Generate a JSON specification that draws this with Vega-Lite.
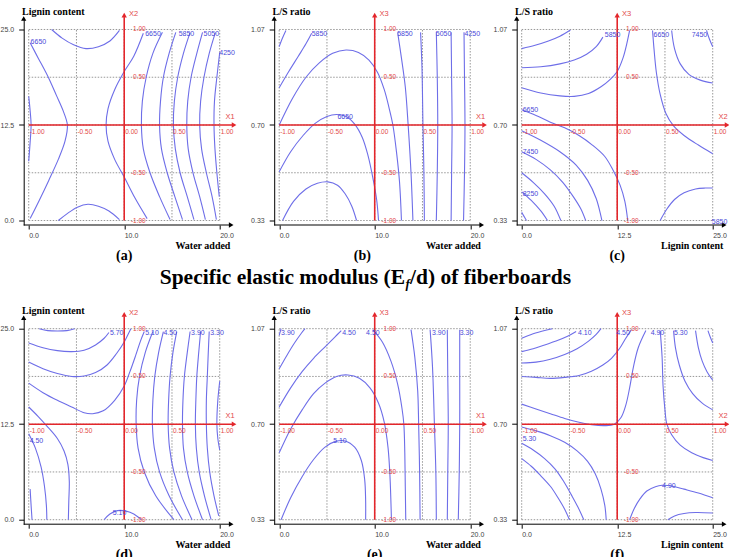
{
"$schema":"https://vega.github.io/schema/vega-lite/v6.json",
"background":"white",
"padding":{"left":-0.3,"top":6.5,"right":0,"bottom":0},
"bounds":"flush",
"columns":3,
"spacing":{"row":92.2,"column":35},
"datasets":{
"grid":[{"x":-1,"y":-1,"x2":-1,"y2":1},{"x":-0.5,"y":-1,"x2":-0.5,"y2":1},{"x":0,"y":-1,"x2":0,"y2":1},{"x":0.5,"y":-1,"x2":0.5,"y2":1},{"x":1,"y":-1,"x2":1,"y2":1},{"x":-1,"y":-1,"x2":1,"y2":-1},{"x":-1,"y":-0.5,"x2":1,"y2":-0.5},{"x":-1,"y":0,"x2":1,"y2":0},{"x":-1,"y":0.5,"x2":1,"y2":0.5},{"x":-1,"y":1,"x2":1,"y2":1}],
"redrule":[{"x":0,"y":-1,"x2":0,"y2":1.13},{"x":-1,"y":0,"x2":1.13,"y2":0}],
"rx":[{"x":-1,"t":"-1.00"},{"x":-0.5,"t":"-0.50"},{"x":0,"t":"0.00"},{"x":0.5,"t":"0.50"},{"x":1,"t":"1.00"}],
"ry":[{"y":1,"t":"1.00"},{"y":0.5,"t":"0.50"},{"y":-0.5,"t":"-0.50"},{"y":-1,"t":"-1.00"}],
"cl":[
{"p":"a","x":-0.98,"y":0.87,"t":"6650"},{"p":"a","x":0.22,"y":0.955,"t":"6650"},{"p":"a","x":0.57,"y":0.955,"t":"5850"},{"p":"a","x":0.83,"y":0.955,"t":"5050"},{"p":"a","x":0.995,"y":0.75,"t":"4250"},
{"p":"b","x":-0.66,"y":0.955,"t":"5850"},{"p":"b","x":-0.39,"y":0.085,"t":"6650"},{"p":"b","x":0.235,"y":0.955,"t":"5850"},{"p":"b","x":0.64,"y":0.955,"t":"5050"},{"p":"b","x":0.94,"y":0.955,"t":"4250"},
{"p":"c","x":-0.13,"y":0.945,"t":"5850"},{"p":"c","x":0.38,"y":0.945,"t":"6650"},{"p":"c","x":0.78,"y":0.945,"t":"7450"},{"p":"c","x":-0.99,"y":0.153,"t":"6650"},{"p":"c","x":-0.99,"y":-0.278,"t":"7450"},{"p":"c","x":-0.99,"y":-0.72,"t":"8250"},{"p":"c","x":0.99,"y":-1.02,"t":"5850"},
{"p":"d","x":-0.15,"y":0.95,"t":"5.70"},{"p":"d","x":0.22,"y":0.95,"t":"5.10"},{"p":"d","x":0.41,"y":0.95,"t":"4.50"},{"p":"d","x":0.7,"y":0.95,"t":"3.90"},{"p":"d","x":0.9,"y":0.95,"t":"3.30"},{"p":"d","x":-0.99,"y":-0.18,"t":"4.50"},{"p":"d","x":-0.12,"y":-0.93,"t":"5.10"},
{"p":"e","x":-0.98,"y":0.95,"t":"3.90"},{"p":"e","x":-0.34,"y":0.95,"t":"4.50"},{"p":"e","x":-0.09,"y":0.95,"t":"4.50"},{"p":"e","x":0.6,"y":0.95,"t":"3.90"},{"p":"e","x":0.89,"y":0.95,"t":"3.30"},{"p":"e","x":-0.435,"y":-0.18,"t":"5.10"},
{"p":"f","x":-0.41,"y":0.95,"t":"4.10"},{"p":"f","x":-0.01,"y":0.95,"t":"4.50"},{"p":"f","x":0.35,"y":0.95,"t":"4.90"},{"p":"f","x":0.595,"y":0.95,"t":"5.30"},{"p":"f","x":-0.99,"y":-0.15,"t":"5.30"},{"p":"f","x":0.47,"y":-0.645,"t":"4.90"}
],
"contours":[
{"p":"a","c":1,"x":-1,"y":0.3},{"p":"a","c":1,"x":-0.985,"y":0.15},{"p":"a","c":1,"x":-0.975,"y":0},{"p":"a","c":1,"x":-0.985,"y":-0.18},{"p":"a","c":1,"x":-1,"y":-0.38},
{"p":"a","c":2,"x":-0.985,"y":0.86},{"p":"a","c":2,"x":-0.9,"y":0.7},{"p":"a","c":2,"x":-0.8,"y":0.51},{"p":"a","c":2,"x":-0.71,"y":0.31},{"p":"a","c":2,"x":-0.64,"y":0.15},{"p":"a","c":2,"x":-0.595,"y":0},{"p":"a","c":2,"x":-0.62,"y":-0.17},{"p":"a","c":2,"x":-0.69,"y":-0.36},{"p":"a","c":2,"x":-0.79,"y":-0.58},{"p":"a","c":2,"x":-0.89,"y":-0.79},{"p":"a","c":2,"x":-0.985,"y":-0.98},
{"p":"a","c":3,"x":-0.76,"y":1},{"p":"a","c":3,"x":-0.65,"y":0.91},{"p":"a","c":3,"x":-0.53,"y":0.84},{"p":"a","c":3,"x":-0.4,"y":0.8},{"p":"a","c":3,"x":-0.27,"y":0.82},{"p":"a","c":3,"x":-0.15,"y":0.88},{"p":"a","c":3,"x":-0.05,"y":0.99},
{"p":"a","c":4,"x":-0.69,"y":-1},{"p":"a","c":4,"x":-0.6,"y":-0.93},{"p":"a","c":4,"x":-0.49,"y":-0.86},{"p":"a","c":4,"x":-0.38,"y":-0.83},{"p":"a","c":4,"x":-0.27,"y":-0.85},{"p":"a","c":4,"x":-0.16,"y":-0.9},{"p":"a","c":4,"x":-0.05,"y":-0.99},
{"p":"a","c":5,"x":0.2,"y":0.96},{"p":"a","c":5,"x":0.1,"y":0.72},{"p":"a","c":5,"x":0,"y":0.56},{"p":"a","c":5,"x":-0.1,"y":0.37},{"p":"a","c":5,"x":-0.17,"y":0.17},{"p":"a","c":5,"x":-0.19,"y":0},{"p":"a","c":5,"x":-0.17,"y":-0.17},{"p":"a","c":5,"x":-0.1,"y":-0.36},{"p":"a","c":5,"x":0,"y":-0.545},{"p":"a","c":5,"x":0.11,"y":-0.76},{"p":"a","c":5,"x":0.24,"y":-0.98},
{"p":"a","c":6,"x":0.4,"y":0.97},{"p":"a","c":6,"x":0.3,"y":0.75},{"p":"a","c":6,"x":0.23,"y":0.5},{"p":"a","c":6,"x":0.19,"y":0.25},{"p":"a","c":6,"x":0.18,"y":0},{"p":"a","c":6,"x":0.2,"y":-0.25},{"p":"a","c":6,"x":0.27,"y":-0.5},{"p":"a","c":6,"x":0.37,"y":-0.75},{"p":"a","c":6,"x":0.48,"y":-0.99},
{"p":"a","c":7,"x":0.54,"y":0.97},{"p":"a","c":7,"x":0.47,"y":0.75},{"p":"a","c":7,"x":0.41,"y":0.5},{"p":"a","c":7,"x":0.38,"y":0.25},{"p":"a","c":7,"x":0.37,"y":0},{"p":"a","c":7,"x":0.39,"y":-0.25},{"p":"a","c":7,"x":0.45,"y":-0.5},{"p":"a","c":7,"x":0.53,"y":-0.75},{"p":"a","c":7,"x":0.61,"y":-0.99},
{"p":"a","c":8,"x":0.69,"y":0.97},{"p":"a","c":8,"x":0.62,"y":0.75},{"p":"a","c":8,"x":0.56,"y":0.5},{"p":"a","c":8,"x":0.525,"y":0.25},{"p":"a","c":8,"x":0.515,"y":0},{"p":"a","c":8,"x":0.535,"y":-0.25},{"p":"a","c":8,"x":0.585,"y":-0.5},{"p":"a","c":8,"x":0.66,"y":-0.75},{"p":"a","c":8,"x":0.73,"y":-0.99},
{"p":"a","c":9,"x":0.82,"y":0.97},{"p":"a","c":9,"x":0.76,"y":0.75},{"p":"a","c":9,"x":0.7,"y":0.5},{"p":"a","c":9,"x":0.665,"y":0.25},{"p":"a","c":9,"x":0.655,"y":0},{"p":"a","c":9,"x":0.67,"y":-0.25},{"p":"a","c":9,"x":0.72,"y":-0.5},{"p":"a","c":9,"x":0.79,"y":-0.75},{"p":"a","c":9,"x":0.85,"y":-0.99},
{"p":"a","c":10,"x":0.955,"y":0.97},{"p":"a","c":10,"x":0.89,"y":0.75},{"p":"a","c":10,"x":0.835,"y":0.5},{"p":"a","c":10,"x":0.8,"y":0.25},{"p":"a","c":10,"x":0.79,"y":0},{"p":"a","c":10,"x":0.81,"y":-0.25},{"p":"a","c":10,"x":0.86,"y":-0.5},{"p":"a","c":10,"x":0.92,"y":-0.75},{"p":"a","c":10,"x":0.965,"y":-0.99},
{"p":"a","c":11,"x":1,"y":0.76},{"p":"a","c":11,"x":0.97,"y":0.5},{"p":"a","c":11,"x":0.945,"y":0.25},{"p":"a","c":11,"x":0.94,"y":0},{"p":"a","c":11,"x":0.95,"y":-0.25},{"p":"a","c":11,"x":0.97,"y":-0.5},{"p":"a","c":11,"x":0.995,"y":-0.75},
{"p":"b","c":1,"x":-1,"y":0.82},{"p":"b","c":1,"x":-0.97,"y":0.9},{"p":"b","c":1,"x":-0.93,"y":0.99},
{"p":"b","c":2,"x":-1,"y":0.39},{"p":"b","c":2,"x":-0.9,"y":0.56},{"p":"b","c":2,"x":-0.8,"y":0.72},{"p":"b","c":2,"x":-0.72,"y":0.85},{"p":"b","c":2,"x":-0.66,"y":0.96},
{"p":"b","c":3,"x":-1,"y":0},{"p":"b","c":3,"x":-0.86,"y":0.28},{"p":"b","c":3,"x":-0.72,"y":0.5},{"p":"b","c":3,"x":-0.58,"y":0.65},{"p":"b","c":3,"x":-0.44,"y":0.75},{"p":"b","c":3,"x":-0.3,"y":0.785},{"p":"b","c":3,"x":-0.17,"y":0.76},{"p":"b","c":3,"x":-0.06,"y":0.68},{"p":"b","c":3,"x":0.03,"y":0.55},{"p":"b","c":3,"x":0.1,"y":0.37},{"p":"b","c":3,"x":0.15,"y":0.18},{"p":"b","c":3,"x":0.19,"y":0},{"p":"b","c":3,"x":0.23,"y":-0.3},{"p":"b","c":3,"x":0.26,"y":-0.6},{"p":"b","c":3,"x":0.28,"y":-1},
{"p":"b","c":4,"x":-1,"y":-0.49},{"p":"b","c":4,"x":-0.88,"y":-0.28},{"p":"b","c":4,"x":-0.75,"y":-0.11},{"p":"b","c":4,"x":-0.62,"y":0.02},{"p":"b","c":4,"x":-0.5,"y":0.09},{"p":"b","c":4,"x":-0.4,"y":0.11},{"p":"b","c":4,"x":-0.3,"y":0.09},{"p":"b","c":4,"x":-0.21,"y":0.01},{"p":"b","c":4,"x":-0.13,"y":-0.13},{"p":"b","c":4,"x":-0.07,"y":-0.32},{"p":"b","c":4,"x":-0.02,"y":-0.55},{"p":"b","c":4,"x":0.02,"y":-0.78},{"p":"b","c":4,"x":0.04,"y":-1},
{"p":"b","c":5,"x":-0.965,"y":-1},{"p":"b","c":5,"x":-0.85,"y":-0.8},{"p":"b","c":5,"x":-0.72,"y":-0.67},{"p":"b","c":5,"x":-0.6,"y":-0.61},{"p":"b","c":5,"x":-0.49,"y":-0.595},{"p":"b","c":5,"x":-0.39,"y":-0.63},{"p":"b","c":5,"x":-0.31,"y":-0.72},{"p":"b","c":5,"x":-0.24,"y":-0.85},{"p":"b","c":5,"x":-0.19,"y":-1},
{"p":"b","c":6,"x":0.24,"y":0.97},{"p":"b","c":6,"x":0.28,"y":0.7},{"p":"b","c":6,"x":0.32,"y":0.4},{"p":"b","c":6,"x":0.35,"y":0},{"p":"b","c":6,"x":0.38,"y":-0.5},{"p":"b","c":6,"x":0.4,"y":-1},
{"p":"b","c":7,"x":0.48,"y":0.97},{"p":"b","c":7,"x":0.495,"y":0.6},{"p":"b","c":7,"x":0.505,"y":0},{"p":"b","c":7,"x":0.515,"y":-0.5},{"p":"b","c":7,"x":0.52,"y":-1},
{"p":"b","c":8,"x":0.645,"y":0.97},{"p":"b","c":8,"x":0.655,"y":0.5},{"p":"b","c":8,"x":0.66,"y":0},{"p":"b","c":8,"x":0.655,"y":-0.5},{"p":"b","c":8,"x":0.645,"y":-1},
{"p":"b","c":9,"x":0.8,"y":0.97},{"p":"b","c":9,"x":0.805,"y":0.5},{"p":"b","c":9,"x":0.81,"y":0},{"p":"b","c":9,"x":0.805,"y":-0.5},{"p":"b","c":9,"x":0.8,"y":-1},
{"p":"b","c":10,"x":0.935,"y":0.97},{"p":"b","c":10,"x":0.94,"y":0.5},{"p":"b","c":10,"x":0.945,"y":0},{"p":"b","c":10,"x":0.94,"y":-0.5},{"p":"b","c":10,"x":0.93,"y":-1},
{"p":"c","c":1,"x":-1,"y":0.8},{"p":"c","c":1,"x":-0.86,"y":0.835},{"p":"c","c":1,"x":-0.72,"y":0.88},{"p":"c","c":1,"x":-0.6,"y":0.93},{"p":"c","c":1,"x":-0.49,"y":0.995},
{"p":"c","c":2,"x":-1,"y":0.6},{"p":"c","c":2,"x":-0.8,"y":0.61},{"p":"c","c":2,"x":-0.6,"y":0.64},{"p":"c","c":2,"x":-0.45,"y":0.68},{"p":"c","c":2,"x":-0.32,"y":0.74},{"p":"c","c":2,"x":-0.22,"y":0.82},{"p":"c","c":2,"x":-0.15,"y":0.92},
{"p":"c","c":3,"x":-1,"y":0.39},{"p":"c","c":3,"x":-0.8,"y":0.335},{"p":"c","c":3,"x":-0.6,"y":0.305},{"p":"c","c":3,"x":-0.45,"y":0.3},{"p":"c","c":3,"x":-0.3,"y":0.33},{"p":"c","c":3,"x":-0.17,"y":0.4},{"p":"c","c":3,"x":-0.07,"y":0.48},{"p":"c","c":3,"x":0,"y":0.56},{"p":"c","c":3,"x":0.06,"y":0.7},{"p":"c","c":3,"x":0.1,"y":0.85},{"p":"c","c":3,"x":0.13,"y":0.99},
{"p":"c","c":4,"x":-1,"y":0.16},{"p":"c","c":4,"x":-0.85,"y":0.1},{"p":"c","c":4,"x":-0.7,"y":0.03},{"p":"c","c":4,"x":-0.55,"y":-0.03},{"p":"c","c":4,"x":-0.4,"y":-0.11},{"p":"c","c":4,"x":-0.26,"y":-0.21},{"p":"c","c":4,"x":-0.13,"y":-0.33},{"p":"c","c":4,"x":-0.04,"y":-0.48},{"p":"c","c":4,"x":0.03,"y":-0.63},{"p":"c","c":4,"x":0.08,"y":-0.8},{"p":"c","c":4,"x":0.11,"y":-1},
{"p":"c","c":5,"x":-1,"y":-0.06},{"p":"c","c":5,"x":-0.8,"y":-0.16},{"p":"c","c":5,"x":-0.6,"y":-0.28},{"p":"c","c":5,"x":-0.43,"y":-0.42},{"p":"c","c":5,"x":-0.31,"y":-0.58},{"p":"c","c":5,"x":-0.22,"y":-0.77},{"p":"c","c":5,"x":-0.16,"y":-1},
{"p":"c","c":6,"x":-1,"y":-0.28},{"p":"c","c":6,"x":-0.85,"y":-0.36},{"p":"c","c":6,"x":-0.7,"y":-0.47},{"p":"c","c":6,"x":-0.57,"y":-0.6},{"p":"c","c":6,"x":-0.46,"y":-0.75},{"p":"c","c":6,"x":-0.38,"y":-0.88},{"p":"c","c":6,"x":-0.33,"y":-1},
{"p":"c","c":7,"x":-1,"y":-0.5},{"p":"c","c":7,"x":-0.88,"y":-0.6},{"p":"c","c":7,"x":-0.76,"y":-0.72},{"p":"c","c":7,"x":-0.66,"y":-0.85},{"p":"c","c":7,"x":-0.59,"y":-1},
{"p":"c","c":8,"x":-1,"y":-0.7},{"p":"c","c":8,"x":-0.9,"y":-0.79},{"p":"c","c":8,"x":-0.8,"y":-0.9},{"p":"c","c":8,"x":-0.73,"y":-1},
{"p":"c","c":9,"x":-1,"y":-0.915},{"p":"c","c":9,"x":-0.95,"y":-1},
{"p":"c","c":10,"x":0.37,"y":0.99},{"p":"c","c":10,"x":0.385,"y":0.8},{"p":"c","c":10,"x":0.41,"y":0.55},{"p":"c","c":10,"x":0.45,"y":0.32},{"p":"c","c":10,"x":0.51,"y":0.12},{"p":"c","c":10,"x":0.59,"y":-0.01},{"p":"c","c":10,"x":0.7,"y":-0.11},{"p":"c","c":10,"x":0.85,"y":-0.21},{"p":"c","c":10,"x":1,"y":-0.3},
{"p":"c","c":11,"x":0.57,"y":0.99},{"p":"c","c":11,"x":0.6,"y":0.8},{"p":"c","c":11,"x":0.66,"y":0.64},{"p":"c","c":11,"x":0.75,"y":0.53},{"p":"c","c":11,"x":0.87,"y":0.47},{"p":"c","c":11,"x":1,"y":0.44},
{"p":"c","c":12,"x":0.935,"y":0.99},{"p":"c","c":12,"x":0.965,"y":0.9},{"p":"c","c":12,"x":1,"y":0.82},
{"p":"c","c":13,"x":0.45,"y":-1},{"p":"c","c":13,"x":0.52,"y":-0.88},{"p":"c","c":13,"x":0.6,"y":-0.78},{"p":"c","c":13,"x":0.7,"y":-0.71},{"p":"c","c":13,"x":0.82,"y":-0.67},{"p":"c","c":13,"x":0.92,"y":-0.66},{"p":"c","c":13,"x":1,"y":-0.66},
{"p":"d","c":1,"x":-0.89,"y":1},{"p":"d","c":1,"x":-0.8,"y":0.98},{"p":"d","c":1,"x":-0.7,"y":0.975},{"p":"d","c":1,"x":-0.6,"y":0.98},{"p":"d","c":1,"x":-0.52,"y":1},
{"p":"d","c":2,"x":-1,"y":0.85},{"p":"d","c":2,"x":-0.85,"y":0.8},{"p":"d","c":2,"x":-0.7,"y":0.77},{"p":"d","c":2,"x":-0.55,"y":0.76},{"p":"d","c":2,"x":-0.42,"y":0.775},{"p":"d","c":2,"x":-0.3,"y":0.83},{"p":"d","c":2,"x":-0.21,"y":0.9},{"p":"d","c":2,"x":-0.16,"y":0.96},
{"p":"d","c":3,"x":-1,"y":0.65},{"p":"d","c":3,"x":-0.85,"y":0.58},{"p":"d","c":3,"x":-0.7,"y":0.53},{"p":"d","c":3,"x":-0.55,"y":0.5},{"p":"d","c":3,"x":-0.42,"y":0.505},{"p":"d","c":3,"x":-0.3,"y":0.54},{"p":"d","c":3,"x":-0.18,"y":0.62},{"p":"d","c":3,"x":-0.08,"y":0.74},{"p":"d","c":3,"x":0,"y":0.86},{"p":"d","c":3,"x":0.05,"y":0.96},{"p":"d","c":3,"x":0.07,"y":1},
{"p":"d","c":4,"x":-1,"y":0.43},{"p":"d","c":4,"x":-0.85,"y":0.33},{"p":"d","c":4,"x":-0.7,"y":0.25},{"p":"d","c":4,"x":-0.55,"y":0.18},{"p":"d","c":4,"x":-0.42,"y":0.12},{"p":"d","c":4,"x":-0.33,"y":0.11},{"p":"d","c":4,"x":-0.22,"y":0.14},{"p":"d","c":4,"x":-0.1,"y":0.25},{"p":"d","c":4,"x":0,"y":0.4},{"p":"d","c":4,"x":0.06,"y":0.55},{"p":"d","c":4,"x":0.12,"y":0.72},{"p":"d","c":4,"x":0.17,"y":0.87},{"p":"d","c":4,"x":0.21,"y":0.97},
{"p":"d","c":5,"x":0.3,"y":0.97},{"p":"d","c":5,"x":0.22,"y":0.75},{"p":"d","c":5,"x":0.16,"y":0.5},{"p":"d","c":5,"x":0.13,"y":0.25},{"p":"d","c":5,"x":0.125,"y":0},{"p":"d","c":5,"x":0.145,"y":-0.25},{"p":"d","c":5,"x":0.21,"y":-0.5},{"p":"d","c":5,"x":0.33,"y":-0.75},{"p":"d","c":5,"x":0.52,"y":-1},
{"p":"d","c":6,"x":0.41,"y":0.97},{"p":"d","c":6,"x":0.36,"y":0.75},{"p":"d","c":6,"x":0.32,"y":0.5},{"p":"d","c":6,"x":0.3,"y":0.25},{"p":"d","c":6,"x":0.295,"y":0},{"p":"d","c":6,"x":0.315,"y":-0.25},{"p":"d","c":6,"x":0.37,"y":-0.5},{"p":"d","c":6,"x":0.47,"y":-0.75},{"p":"d","c":6,"x":0.61,"y":-1},
{"p":"d","c":7,"x":0.55,"y":0.97},{"p":"d","c":7,"x":0.51,"y":0.75},{"p":"d","c":7,"x":0.48,"y":0.5},{"p":"d","c":7,"x":0.465,"y":0.25},{"p":"d","c":7,"x":0.46,"y":0},{"p":"d","c":7,"x":0.475,"y":-0.25},{"p":"d","c":7,"x":0.52,"y":-0.5},{"p":"d","c":7,"x":0.6,"y":-0.75},{"p":"d","c":7,"x":0.71,"y":-1},
{"p":"d","c":8,"x":0.69,"y":0.97},{"p":"d","c":8,"x":0.66,"y":0.75},{"p":"d","c":8,"x":0.63,"y":0.5},{"p":"d","c":8,"x":0.615,"y":0.25},{"p":"d","c":8,"x":0.61,"y":0},{"p":"d","c":8,"x":0.62,"y":-0.25},{"p":"d","c":8,"x":0.66,"y":-0.5},{"p":"d","c":8,"x":0.73,"y":-0.75},{"p":"d","c":8,"x":0.82,"y":-1},
{"p":"d","c":9,"x":0.8,"y":0.97},{"p":"d","c":9,"x":0.78,"y":0.75},{"p":"d","c":9,"x":0.76,"y":0.5},{"p":"d","c":9,"x":0.75,"y":0.25},{"p":"d","c":9,"x":0.745,"y":0},{"p":"d","c":9,"x":0.755,"y":-0.25},{"p":"d","c":9,"x":0.785,"y":-0.5},{"p":"d","c":9,"x":0.84,"y":-0.75},{"p":"d","c":9,"x":0.91,"y":-1},
{"p":"d","c":10,"x":0.89,"y":0.97},{"p":"d","c":10,"x":0.88,"y":0.75},{"p":"d","c":10,"x":0.87,"y":0.5},{"p":"d","c":10,"x":0.86,"y":0.25},{"p":"d","c":10,"x":0.86,"y":0},{"p":"d","c":10,"x":0.87,"y":-0.25},{"p":"d","c":10,"x":0.895,"y":-0.5},{"p":"d","c":10,"x":0.94,"y":-0.75},{"p":"d","c":10,"x":0.99,"y":-0.96},
{"p":"d","c":11,"x":1,"y":0.45},{"p":"d","c":11,"x":0.98,"y":0.25},{"p":"d","c":11,"x":0.97,"y":0},{"p":"d","c":11,"x":0.98,"y":-0.15},{"p":"d","c":11,"x":1,"y":-0.27},
{"p":"d","c":12,"x":-1,"y":0.18},{"p":"d","c":12,"x":-0.9,"y":0.08},{"p":"d","c":12,"x":-0.8,"y":-0.03},{"p":"d","c":12,"x":-0.7,"y":-0.15},{"p":"d","c":12,"x":-0.63,"y":-0.28},{"p":"d","c":12,"x":-0.59,"y":-0.42},{"p":"d","c":12,"x":-0.575,"y":-0.6},{"p":"d","c":12,"x":-0.58,"y":-0.8},{"p":"d","c":12,"x":-0.585,"y":-1},
{"p":"d","c":13,"x":-1,"y":-0.1},{"p":"d","c":13,"x":-0.93,"y":-0.25},{"p":"d","c":13,"x":-0.87,"y":-0.45},{"p":"d","c":13,"x":-0.835,"y":-0.65},{"p":"d","c":13,"x":-0.815,"y":-0.85},{"p":"d","c":13,"x":-0.81,"y":-1},
{"p":"d","c":14,"x":-0.985,"y":-0.68},{"p":"d","c":14,"x":-0.975,"y":-0.85},{"p":"d","c":14,"x":-0.965,"y":-1},
{"p":"d","c":15,"x":-0.21,"y":-1},{"p":"d","c":15,"x":-0.15,"y":-0.94},{"p":"d","c":15,"x":-0.07,"y":-0.905},{"p":"d","c":15,"x":0.02,"y":-0.91},{"p":"d","c":15,"x":0.1,"y":-0.94},{"p":"d","c":15,"x":0.18,"y":-1},
{"p":"e","c":1,"x":-1,"y":0.93},{"p":"e","c":1,"x":-0.98,"y":1},
{"p":"e","c":2,"x":-1,"y":0.58},{"p":"e","c":2,"x":-0.92,"y":0.72},{"p":"e","c":2,"x":-0.84,"y":0.85},{"p":"e","c":2,"x":-0.77,"y":0.95},{"p":"e","c":2,"x":-0.73,"y":1},
{"p":"e","c":3,"x":-1,"y":0.18},{"p":"e","c":3,"x":-0.88,"y":0.38},{"p":"e","c":3,"x":-0.76,"y":0.55},{"p":"e","c":3,"x":-0.64,"y":0.69},{"p":"e","c":3,"x":-0.52,"y":0.81},{"p":"e","c":3,"x":-0.42,"y":0.91},{"p":"e","c":3,"x":-0.35,"y":0.98},
{"p":"e","c":4,"x":-1,"y":-0.3},{"p":"e","c":4,"x":-0.88,"y":-0.05},{"p":"e","c":4,"x":-0.76,"y":0.15},{"p":"e","c":4,"x":-0.64,"y":0.32},{"p":"e","c":4,"x":-0.52,"y":0.43},{"p":"e","c":4,"x":-0.4,"y":0.5},{"p":"e","c":4,"x":-0.28,"y":0.515},{"p":"e","c":4,"x":-0.16,"y":0.48},{"p":"e","c":4,"x":-0.05,"y":0.38},{"p":"e","c":4,"x":0.04,"y":0.22},{"p":"e","c":4,"x":0.1,"y":0.02},{"p":"e","c":4,"x":0.14,"y":-0.25},{"p":"e","c":4,"x":0.16,"y":-0.55},{"p":"e","c":4,"x":0.175,"y":-1},
{"p":"e","c":5,"x":-0.98,"y":-1},{"p":"e","c":5,"x":-0.88,"y":-0.77},{"p":"e","c":5,"x":-0.76,"y":-0.55},{"p":"e","c":5,"x":-0.64,"y":-0.37},{"p":"e","c":5,"x":-0.52,"y":-0.24},{"p":"e","c":5,"x":-0.41,"y":-0.18},{"p":"e","c":5,"x":-0.31,"y":-0.175},{"p":"e","c":5,"x":-0.21,"y":-0.24},{"p":"e","c":5,"x":-0.14,"y":-0.38},{"p":"e","c":5,"x":-0.105,"y":-0.58},{"p":"e","c":5,"x":-0.095,"y":-0.8},{"p":"e","c":5,"x":-0.095,"y":-1},
{"p":"e","c":6,"x":-0.02,"y":0.99},{"p":"e","c":6,"x":0.08,"y":0.86},{"p":"e","c":6,"x":0.17,"y":0.66},{"p":"e","c":6,"x":0.24,"y":0.42},{"p":"e","c":6,"x":0.285,"y":0.17},{"p":"e","c":6,"x":0.305,"y":0},{"p":"e","c":6,"x":0.315,"y":-0.3},{"p":"e","c":6,"x":0.32,"y":-0.65},{"p":"e","c":6,"x":0.325,"y":-1},
{"p":"e","c":7,"x":0.38,"y":0.99},{"p":"e","c":7,"x":0.42,"y":0.7},{"p":"e","c":7,"x":0.45,"y":0.35},{"p":"e","c":7,"x":0.46,"y":0},{"p":"e","c":7,"x":0.47,"y":-0.5},{"p":"e","c":7,"x":0.475,"y":-1},
{"p":"e","c":8,"x":0.58,"y":0.99},{"p":"e","c":8,"x":0.605,"y":0.6},{"p":"e","c":8,"x":0.625,"y":0},{"p":"e","c":8,"x":0.64,"y":-0.5},{"p":"e","c":8,"x":0.645,"y":-1},
{"p":"e","c":9,"x":0.76,"y":0.99},{"p":"e","c":9,"x":0.765,"y":0.5},{"p":"e","c":9,"x":0.77,"y":0},{"p":"e","c":9,"x":0.765,"y":-0.5},{"p":"e","c":9,"x":0.76,"y":-1},
{"p":"e","c":10,"x":0.89,"y":0.99},{"p":"e","c":10,"x":0.89,"y":0.5},{"p":"e","c":10,"x":0.89,"y":0},{"p":"e","c":10,"x":0.885,"y":-0.5},{"p":"e","c":10,"x":0.875,"y":-1},
{"p":"f","c":1,"x":-1,"y":0.9},{"p":"f","c":1,"x":-0.9,"y":0.94},{"p":"f","c":1,"x":-0.78,"y":0.975},{"p":"f","c":1,"x":-0.68,"y":1},
{"p":"f","c":2,"x":-1,"y":0.76},{"p":"f","c":2,"x":-0.88,"y":0.79},{"p":"f","c":2,"x":-0.76,"y":0.83},{"p":"f","c":2,"x":-0.64,"y":0.87},{"p":"f","c":2,"x":-0.52,"y":0.92},{"p":"f","c":2,"x":-0.43,"y":0.97},
{"p":"f","c":3,"x":-1,"y":0.64},{"p":"f","c":3,"x":-0.85,"y":0.65},{"p":"f","c":3,"x":-0.7,"y":0.68},{"p":"f","c":3,"x":-0.55,"y":0.73},{"p":"f","c":3,"x":-0.42,"y":0.79},{"p":"f","c":3,"x":-0.3,"y":0.87},{"p":"f","c":3,"x":-0.22,"y":0.94},{"p":"f","c":3,"x":-0.17,"y":1},
{"p":"f","c":4,"x":-1,"y":0.5},{"p":"f","c":4,"x":-0.85,"y":0.49},{"p":"f","c":4,"x":-0.7,"y":0.48},{"p":"f","c":4,"x":-0.55,"y":0.49},{"p":"f","c":4,"x":-0.4,"y":0.51},{"p":"f","c":4,"x":-0.27,"y":0.555},{"p":"f","c":4,"x":-0.15,"y":0.62},{"p":"f","c":4,"x":-0.06,"y":0.69},{"p":"f","c":4,"x":0.03,"y":0.8},{"p":"f","c":4,"x":0.09,"y":0.9},{"p":"f","c":4,"x":0.15,"y":0.99},
{"p":"f","c":5,"x":-1,"y":0.21},{"p":"f","c":5,"x":-0.85,"y":0.16},{"p":"f","c":5,"x":-0.7,"y":0.11},{"p":"f","c":5,"x":-0.55,"y":0.06},{"p":"f","c":5,"x":-0.4,"y":0.02},{"p":"f","c":5,"x":-0.27,"y":-0.005},{"p":"f","c":5,"x":-0.13,"y":-0.015},{"p":"f","c":5,"x":-0.03,"y":0},{"p":"f","c":5,"x":0.04,"y":0.07},{"p":"f","c":5,"x":0.09,"y":0.2},{"p":"f","c":5,"x":0.13,"y":0.38},{"p":"f","c":5,"x":0.17,"y":0.6},{"p":"f","c":5,"x":0.22,"y":0.8},{"p":"f","c":5,"x":0.3,"y":0.98},
{"p":"f","c":6,"x":0.45,"y":0.98},{"p":"f","c":6,"x":0.47,"y":0.7},{"p":"f","c":6,"x":0.48,"y":0.4},{"p":"f","c":6,"x":0.5,"y":0.15},{"p":"f","c":6,"x":0.52,"y":0},{"p":"f","c":6,"x":0.57,"y":-0.11},{"p":"f","c":6,"x":0.66,"y":-0.22},{"p":"f","c":6,"x":0.78,"y":-0.3},{"p":"f","c":6,"x":0.9,"y":-0.35},{"p":"f","c":6,"x":1,"y":-0.38},
{"p":"f","c":7,"x":0.59,"y":0.98},{"p":"f","c":7,"x":0.61,"y":0.8},{"p":"f","c":7,"x":0.65,"y":0.62},{"p":"f","c":7,"x":0.71,"y":0.45},{"p":"f","c":7,"x":0.79,"y":0.32},{"p":"f","c":7,"x":0.89,"y":0.22},{"p":"f","c":7,"x":1,"y":0.15},
{"p":"f","c":8,"x":0.82,"y":0.98},{"p":"f","c":8,"x":0.85,"y":0.8},{"p":"f","c":8,"x":0.89,"y":0.66},{"p":"f","c":8,"x":0.94,"y":0.55},{"p":"f","c":8,"x":1,"y":0.46},
{"p":"f","c":9,"x":0.95,"y":0.98},{"p":"f","c":9,"x":0.975,"y":0.91},{"p":"f","c":9,"x":1,"y":0.85},
{"p":"f","c":10,"x":-1,"y":-0.03},{"p":"f","c":10,"x":-0.85,"y":-0.07},{"p":"f","c":10,"x":-0.7,"y":-0.12},{"p":"f","c":10,"x":-0.55,"y":-0.19},{"p":"f","c":10,"x":-0.42,"y":-0.28},{"p":"f","c":10,"x":-0.31,"y":-0.39},{"p":"f","c":10,"x":-0.23,"y":-0.52},{"p":"f","c":10,"x":-0.17,"y":-0.68},{"p":"f","c":10,"x":-0.13,"y":-0.85},{"p":"f","c":10,"x":-0.115,"y":-1},
{"p":"f","c":11,"x":-1,"y":-0.2},{"p":"f","c":11,"x":-0.88,"y":-0.27},{"p":"f","c":11,"x":-0.76,"y":-0.36},{"p":"f","c":11,"x":-0.65,"y":-0.47},{"p":"f","c":11,"x":-0.56,"y":-0.6},{"p":"f","c":11,"x":-0.48,"y":-0.74},{"p":"f","c":11,"x":-0.41,"y":-0.87},{"p":"f","c":11,"x":-0.35,"y":-1},
{"p":"f","c":12,"x":-1,"y":-0.36},{"p":"f","c":12,"x":-0.9,"y":-0.44},{"p":"f","c":12,"x":-0.8,"y":-0.54},{"p":"f","c":12,"x":-0.7,"y":-0.65},{"p":"f","c":12,"x":-0.62,"y":-0.77},{"p":"f","c":12,"x":-0.55,"y":-0.89},{"p":"f","c":12,"x":-0.5,"y":-1},
{"p":"f","c":13,"x":0.13,"y":-1},{"p":"f","c":13,"x":0.18,"y":-0.88},{"p":"f","c":13,"x":0.24,"y":-0.78},{"p":"f","c":13,"x":0.31,"y":-0.7},{"p":"f","c":13,"x":0.4,"y":-0.655},{"p":"f","c":13,"x":0.47,"y":-0.64},{"p":"f","c":13,"x":0.58,"y":-0.65},{"p":"f","c":13,"x":0.7,"y":-0.68},{"p":"f","c":13,"x":0.85,"y":-0.72},{"p":"f","c":13,"x":1,"y":-0.77},
{"p":"f","c":14,"x":0.53,"y":-1},{"p":"f","c":14,"x":0.6,"y":-0.96},{"p":"f","c":14,"x":0.7,"y":-0.935},{"p":"f","c":14,"x":0.82,"y":-0.925},{"p":"f","c":14,"x":1,"y":-0.93}
]
},
"concat":[
{"width":207.5,"height":206.5,"layer":[
{"data":{"name":"grid"},"mark":{"type":"rule","color":"#8c8c8c","strokeWidth":0.9,"strokeDash":[1.5,1.5]},"encoding":{"x":{"field":"x","type":"quantitative","title":null,"scale":{"domain":[-1.0524,1.12],"nice":false,"zero":false},"axis":{"values":[-1,0,1],"domain":false,"labelExpr":"datum.value == -1 ? '0.0' : datum.value == 0 ? '10.0' : '20.0'"}},"y":{"field":"y","type":"quantitative","title":null,"scale":{"domain":[-1.047,1.115],"nice":false,"zero":false},"axis":{"values":[-1,0,1],"labelExpr":"datum.value == -1 ? '0.0' : datum.value == 0 ? '12.5' : '25.0'"}},"x2":{"field":"x2"},"y2":{"field":"y2"}}},
{"data":{"name":"contours"},"transform":[{"filter":"datum.p=='a'"}],"mark":"line","encoding":{"x":{"field":"x","type":"quantitative","title":null},"y":{"field":"y","type":"quantitative","title":null},"detail":{"field":"c"},"order":{"value":null}}},
{"data":{"name":"redrule"},"mark":{"type":"rule","color":"#e3262b","strokeWidth":1.6},"encoding":{"x":{"field":"x","type":"quantitative","title":null},"y":{"field":"y","type":"quantitative","title":null},"x2":{"field":"x2"},"y2":{"field":"y2"}}},
{"data":{"values":[{}]},"mark":{"type":"rule","color":"#000","strokeWidth":1},"encoding":{"x":{"datum":-1.0524},"x2":{"datum":1.12},"y":{"datum":-1.047}}},
{"data":{"values":[{}]},"mark":{"type":"point","shape":"triangle-up","color":"#e3262b"},"encoding":{"x":{"datum":0},"y":{"datum":1.15}}},
{"data":{"values":[{}]},"mark":{"type":"point","shape":"triangle-right","color":"#e3262b"},"encoding":{"x":{"datum":1.15},"y":{"datum":0}}},
{"data":{"values":[{}]},"mark":{"type":"point","shape":"triangle-up","color":"#000"},"encoding":{"x":{"datum":-1.0524},"y":{"datum":1.115}}},
{"data":{"values":[{}]},"mark":{"type":"point","shape":"triangle-right","color":"#000"},"encoding":{"x":{"datum":1.12},"y":{"datum":-1.047}}},
{"data":{"name":"rx"},"mark":{"type":"text","dx":1,"fontSize":6.5,"color":"#e34a4a"},"encoding":{"x":{"field":"x","type":"quantitative","title":null},"y":{"datum":-0.072},"text":{"field":"t"}}},
{"data":{"name":"ry"},"mark":{"type":"text","align":"right","fontSize":6.5,"color":"#e34a4a"},"encoding":{"x":{"datum":0.225},"y":{"field":"y","type":"quantitative","title":null},"text":{"field":"t"}}},
{"data":{"values":[{}]},"mark":{"type":"text","fontSize":7.5,"color":"#e34a4a"},"encoding":{"x":{"datum":1.06},"y":{"datum":0.085},"text":{"value":"X1"}}},
{"data":{"values":[{}]},"mark":{"type":"text","fontSize":7.5,"color":"#e34a4a"},"encoding":{"x":{"datum":0.05},"y":{"datum":1.165},"text":{"value":"X2"}}},
{"data":{"name":"cl"},"transform":[{"filter":"datum.p=='a'"}],"mark":{"type":"text","fontSize":7,"color":"#4848d8"},"encoding":{"x":{"field":"x","type":"quantitative","title":null},"y":{"field":"y","type":"quantitative","title":null},"text":{"field":"t"}}},
{"data":{"values":[{}]},"mark":{"type":"text","font":"Liberation Serif","fontWeight":"bold","fontSize":10,"color":"#000"},"encoding":{"x":{"datum":-1.069},"y":{"datum":1.186},"text":{"value":"Lignin content"}}},
{"data":{"values":[{}]},"mark":{"type":"text","align":"right","font":"Liberation Serif","fontWeight":"bold","fontSize":10,"color":"#000"},"encoding":{"x":{"datum":1.112},"y":{"datum":-1.268},"text":{"value":"Water added"}}},
{"data":{"values":[{}]},"mark":{"type":"text","align":"center","font":"Liberation Serif","fontWeight":"bold","fontSize":14,"color":"#000"},"encoding":{"x":{"datum":0},"y":{"datum":-1.374},"text":{"value":"(a)"}}}
]},
{"width":215,"height":206.5,"layer":[
{"data":{"name":"grid"},"mark":{"type":"rule","color":"#8c8c8c","strokeWidth":0.9,"strokeDash":[1.5,1.5]},"encoding":{"x":{"field":"x","type":"quantitative","title":null,"scale":{"domain":[-1.1309,1.12],"nice":false,"zero":false},"axis":{"values":[-1,0,1],"domain":false,"labelExpr":"datum.value == -1 ? '0.0' : datum.value == 0 ? '10.0' : '20.0'"}},"y":{"field":"y","type":"quantitative","title":null,"scale":{"domain":[-1.047,1.115],"nice":false,"zero":false},"axis":{"values":[-1,0,1],"offset":-7.5,"labelExpr":"datum.value == -1 ? '0.33' : datum.value == 0 ? '0.70' : '1.07'"}},"x2":{"field":"x2"},"y2":{"field":"y2"}}},
{"data":{"name":"contours"},"transform":[{"filter":"datum.p=='b'"}],"mark":"line","encoding":{"x":{"field":"x","type":"quantitative","title":null},"y":{"field":"y","type":"quantitative","title":null},"detail":{"field":"c"},"order":{"value":null}}},
{"data":{"name":"redrule"},"mark":{"type":"rule","color":"#e3262b","strokeWidth":1.6},"encoding":{"x":{"field":"x","type":"quantitative","title":null},"y":{"field":"y","type":"quantitative","title":null},"x2":{"field":"x2"},"y2":{"field":"y2"}}},
{"data":{"values":[{}]},"mark":{"type":"rule","color":"#000","strokeWidth":1},"encoding":{"x":{"datum":-1.0524},"x2":{"datum":1.12},"y":{"datum":-1.047}}},
{"data":{"values":[{}]},"mark":{"type":"point","shape":"triangle-up","color":"#e3262b"},"encoding":{"x":{"datum":0},"y":{"datum":1.15}}},
{"data":{"values":[{}]},"mark":{"type":"point","shape":"triangle-right","color":"#e3262b"},"encoding":{"x":{"datum":1.15},"y":{"datum":0}}},
{"data":{"values":[{}]},"mark":{"type":"point","shape":"triangle-up","color":"#000"},"encoding":{"x":{"datum":-1.0524},"y":{"datum":1.115}}},
{"data":{"values":[{}]},"mark":{"type":"point","shape":"triangle-right","color":"#000"},"encoding":{"x":{"datum":1.12},"y":{"datum":-1.047}}},
{"data":{"name":"rx"},"mark":{"type":"text","dx":1,"fontSize":6.5,"color":"#e34a4a"},"encoding":{"x":{"field":"x","type":"quantitative","title":null},"y":{"datum":-0.072},"text":{"field":"t"}}},
{"data":{"name":"ry"},"mark":{"type":"text","align":"right","fontSize":6.5,"color":"#e34a4a"},"encoding":{"x":{"datum":0.225},"y":{"field":"y","type":"quantitative","title":null},"text":{"field":"t"}}},
{"data":{"values":[{}]},"mark":{"type":"text","fontSize":7.5,"color":"#e34a4a"},"encoding":{"x":{"datum":1.06},"y":{"datum":0.085},"text":{"value":"X1"}}},
{"data":{"values":[{}]},"mark":{"type":"text","fontSize":7.5,"color":"#e34a4a"},"encoding":{"x":{"datum":0.05},"y":{"datum":1.165},"text":{"value":"X3"}}},
{"data":{"name":"cl"},"transform":[{"filter":"datum.p=='b'"}],"mark":{"type":"text","fontSize":7,"color":"#4848d8"},"encoding":{"x":{"field":"x","type":"quantitative","title":null},"y":{"field":"y","type":"quantitative","title":null},"text":{"field":"t"}}},
{"data":{"values":[{}]},"mark":{"type":"text","font":"Liberation Serif","fontWeight":"bold","fontSize":10,"color":"#000"},"encoding":{"x":{"datum":-1.069},"y":{"datum":1.186},"text":{"value":"L/S ratio"}}},
{"data":{"values":[{}]},"mark":{"type":"text","align":"right","font":"Liberation Serif","fontWeight":"bold","fontSize":10,"color":"#000"},"encoding":{"x":{"datum":1.112},"y":{"datum":-1.268},"text":{"value":"Water added"}}},
{"data":{"values":[{}]},"mark":{"type":"text","align":"center","font":"Liberation Serif","fontWeight":"bold","fontSize":14,"color":"#000"},"encoding":{"x":{"datum":-0.13},"y":{"datum":-1.374},"text":{"value":"(b)"}}}
]},
{"width":207.5,"height":206.5,"layer":[
{"data":{"name":"grid"},"mark":{"type":"rule","color":"#8c8c8c","strokeWidth":0.9,"strokeDash":[1.5,1.5]},"encoding":{"x":{"field":"x","type":"quantitative","title":null,"scale":{"domain":[-1.0524,1.12],"nice":false,"zero":false},"axis":{"values":[-1,0,1],"domain":false,"labelExpr":"datum.value == -1 ? '0.0' : datum.value == 0 ? '12.5' : '25.0'"}},"y":{"field":"y","type":"quantitative","title":null,"scale":{"domain":[-1.047,1.115],"nice":false,"zero":false},"axis":{"values":[-1,0,1],"labelExpr":"datum.value == -1 ? '0.33' : datum.value == 0 ? '0.70' : '1.07'"}},"x2":{"field":"x2"},"y2":{"field":"y2"}}},
{"data":{"name":"contours"},"transform":[{"filter":"datum.p=='c'"}],"mark":"line","encoding":{"x":{"field":"x","type":"quantitative","title":null},"y":{"field":"y","type":"quantitative","title":null},"detail":{"field":"c"},"order":{"value":null}}},
{"data":{"name":"redrule"},"mark":{"type":"rule","color":"#e3262b","strokeWidth":1.6},"encoding":{"x":{"field":"x","type":"quantitative","title":null},"y":{"field":"y","type":"quantitative","title":null},"x2":{"field":"x2"},"y2":{"field":"y2"}}},
{"data":{"values":[{}]},"mark":{"type":"rule","color":"#000","strokeWidth":1},"encoding":{"x":{"datum":-1.0524},"x2":{"datum":1.12},"y":{"datum":-1.047}}},
{"data":{"values":[{}]},"mark":{"type":"point","shape":"triangle-up","color":"#e3262b"},"encoding":{"x":{"datum":0},"y":{"datum":1.15}}},
{"data":{"values":[{}]},"mark":{"type":"point","shape":"triangle-right","color":"#e3262b"},"encoding":{"x":{"datum":1.15},"y":{"datum":0}}},
{"data":{"values":[{}]},"mark":{"type":"point","shape":"triangle-up","color":"#000"},"encoding":{"x":{"datum":-1.0524},"y":{"datum":1.115}}},
{"data":{"values":[{}]},"mark":{"type":"point","shape":"triangle-right","color":"#000"},"encoding":{"x":{"datum":1.12},"y":{"datum":-1.047}}},
{"data":{"name":"rx"},"mark":{"type":"text","dx":1,"fontSize":6.5,"color":"#e34a4a"},"encoding":{"x":{"field":"x","type":"quantitative","title":null},"y":{"datum":-0.072},"text":{"field":"t"}}},
{"data":{"name":"ry"},"mark":{"type":"text","align":"right","fontSize":6.5,"color":"#e34a4a"},"encoding":{"x":{"datum":0.225},"y":{"field":"y","type":"quantitative","title":null},"text":{"field":"t"}}},
{"data":{"values":[{}]},"mark":{"type":"text","fontSize":7.5,"color":"#e34a4a"},"encoding":{"x":{"datum":1.06},"y":{"datum":0.085},"text":{"value":"X2"}}},
{"data":{"values":[{}]},"mark":{"type":"text","fontSize":7.5,"color":"#e34a4a"},"encoding":{"x":{"datum":0.05},"y":{"datum":1.165},"text":{"value":"X3"}}},
{"data":{"name":"cl"},"transform":[{"filter":"datum.p=='c'"}],"mark":{"type":"text","fontSize":7,"color":"#4848d8"},"encoding":{"x":{"field":"x","type":"quantitative","title":null},"y":{"field":"y","type":"quantitative","title":null},"text":{"field":"t"}}},
{"data":{"values":[{}]},"mark":{"type":"text","font":"Liberation Serif","fontWeight":"bold","fontSize":10,"color":"#000"},"encoding":{"x":{"datum":-1.069},"y":{"datum":1.186},"text":{"value":"L/S ratio"}}},
{"data":{"values":[{}]},"mark":{"type":"text","align":"right","font":"Liberation Serif","fontWeight":"bold","fontSize":10,"color":"#000"},"encoding":{"x":{"datum":1.112},"y":{"datum":-1.268},"text":{"value":"Lignin content"}}},
{"data":{"values":[{}]},"mark":{"type":"text","align":"center","font":"Liberation Serif","fontWeight":"bold","fontSize":14,"color":"#000"},"encoding":{"x":{"datum":0},"y":{"datum":-1.374},"text":{"value":"(c)"}}}
]},
{"width":207.5,"height":206.5,"layer":[
{"data":{"name":"grid"},"mark":{"type":"rule","color":"#8c8c8c","strokeWidth":0.9,"strokeDash":[1.5,1.5]},"encoding":{"x":{"field":"x","type":"quantitative","title":null,"scale":{"domain":[-1.0524,1.12],"nice":false,"zero":false},"axis":{"values":[-1,0,1],"domain":false,"labelExpr":"datum.value == -1 ? '0.0' : datum.value == 0 ? '10.0' : '20.0'"}},"y":{"field":"y","type":"quantitative","title":null,"scale":{"domain":[-1.047,1.115],"nice":false,"zero":false},"axis":{"values":[-1,0,1],"labelExpr":"datum.value == -1 ? '0.0' : datum.value == 0 ? '12.5' : '25.0'"}},"x2":{"field":"x2"},"y2":{"field":"y2"}}},
{"data":{"name":"contours"},"transform":[{"filter":"datum.p=='d'"}],"mark":"line","encoding":{"x":{"field":"x","type":"quantitative","title":null},"y":{"field":"y","type":"quantitative","title":null},"detail":{"field":"c"},"order":{"value":null}}},
{"data":{"name":"redrule"},"mark":{"type":"rule","color":"#e3262b","strokeWidth":1.6},"encoding":{"x":{"field":"x","type":"quantitative","title":null},"y":{"field":"y","type":"quantitative","title":null},"x2":{"field":"x2"},"y2":{"field":"y2"}}},
{"data":{"values":[{}]},"mark":{"type":"rule","color":"#000","strokeWidth":1},"encoding":{"x":{"datum":-1.0524},"x2":{"datum":1.12},"y":{"datum":-1.047}}},
{"data":{"values":[{}]},"mark":{"type":"point","shape":"triangle-up","color":"#e3262b"},"encoding":{"x":{"datum":0},"y":{"datum":1.15}}},
{"data":{"values":[{}]},"mark":{"type":"point","shape":"triangle-right","color":"#e3262b"},"encoding":{"x":{"datum":1.15},"y":{"datum":0}}},
{"data":{"values":[{}]},"mark":{"type":"point","shape":"triangle-up","color":"#000"},"encoding":{"x":{"datum":-1.0524},"y":{"datum":1.115}}},
{"data":{"values":[{}]},"mark":{"type":"point","shape":"triangle-right","color":"#000"},"encoding":{"x":{"datum":1.12},"y":{"datum":-1.047}}},
{"data":{"name":"rx"},"mark":{"type":"text","dx":1,"fontSize":6.5,"color":"#e34a4a"},"encoding":{"x":{"field":"x","type":"quantitative","title":null},"y":{"datum":-0.072},"text":{"field":"t"}}},
{"data":{"name":"ry"},"mark":{"type":"text","align":"right","fontSize":6.5,"color":"#e34a4a"},"encoding":{"x":{"datum":0.225},"y":{"field":"y","type":"quantitative","title":null},"text":{"field":"t"}}},
{"data":{"values":[{}]},"mark":{"type":"text","fontSize":7.5,"color":"#e34a4a"},"encoding":{"x":{"datum":1.06},"y":{"datum":0.085},"text":{"value":"X1"}}},
{"data":{"values":[{}]},"mark":{"type":"text","fontSize":7.5,"color":"#e34a4a"},"encoding":{"x":{"datum":0.05},"y":{"datum":1.165},"text":{"value":"X2"}}},
{"data":{"name":"cl"},"transform":[{"filter":"datum.p=='d'"}],"mark":{"type":"text","fontSize":7,"color":"#4848d8"},"encoding":{"x":{"field":"x","type":"quantitative","title":null},"y":{"field":"y","type":"quantitative","title":null},"text":{"field":"t"}}},
{"data":{"values":[{}]},"mark":{"type":"text","font":"Liberation Serif","fontWeight":"bold","fontSize":10,"color":"#000"},"encoding":{"x":{"datum":-1.069},"y":{"datum":1.186},"text":{"value":"Lignin content"}}},
{"data":{"values":[{}]},"mark":{"type":"text","align":"right","font":"Liberation Serif","fontWeight":"bold","fontSize":10,"color":"#000"},"encoding":{"x":{"datum":1.112},"y":{"datum":-1.268},"text":{"value":"Water added"}}},
{"data":{"values":[{}]},"mark":{"type":"text","align":"center","font":"Liberation Serif","fontWeight":"bold","fontSize":14,"color":"#000"},"encoding":{"x":{"datum":0},"y":{"datum":-1.374},"text":{"value":"(d)"}}}
]},
{"width":215,"height":206.5,"layer":[
{"data":{"name":"grid"},"mark":{"type":"rule","color":"#8c8c8c","strokeWidth":0.9,"strokeDash":[1.5,1.5]},"encoding":{"x":{"field":"x","type":"quantitative","title":null,"scale":{"domain":[-1.1309,1.12],"nice":false,"zero":false},"axis":{"values":[-1,0,1],"domain":false,"labelExpr":"datum.value == -1 ? '0.0' : datum.value == 0 ? '10.0' : '20.0'"}},"y":{"field":"y","type":"quantitative","title":null,"scale":{"domain":[-1.047,1.115],"nice":false,"zero":false},"axis":{"values":[-1,0,1],"offset":-7.5,"labelExpr":"datum.value == -1 ? '0.33' : datum.value == 0 ? '0.70' : '1.07'"}},"x2":{"field":"x2"},"y2":{"field":"y2"}}},
{"data":{"name":"contours"},"transform":[{"filter":"datum.p=='e'"}],"mark":"line","encoding":{"x":{"field":"x","type":"quantitative","title":null},"y":{"field":"y","type":"quantitative","title":null},"detail":{"field":"c"},"order":{"value":null}}},
{"data":{"name":"redrule"},"mark":{"type":"rule","color":"#e3262b","strokeWidth":1.6},"encoding":{"x":{"field":"x","type":"quantitative","title":null},"y":{"field":"y","type":"quantitative","title":null},"x2":{"field":"x2"},"y2":{"field":"y2"}}},
{"data":{"values":[{}]},"mark":{"type":"rule","color":"#000","strokeWidth":1},"encoding":{"x":{"datum":-1.0524},"x2":{"datum":1.12},"y":{"datum":-1.047}}},
{"data":{"values":[{}]},"mark":{"type":"point","shape":"triangle-up","color":"#e3262b"},"encoding":{"x":{"datum":0},"y":{"datum":1.15}}},
{"data":{"values":[{}]},"mark":{"type":"point","shape":"triangle-right","color":"#e3262b"},"encoding":{"x":{"datum":1.15},"y":{"datum":0}}},
{"data":{"values":[{}]},"mark":{"type":"point","shape":"triangle-up","color":"#000"},"encoding":{"x":{"datum":-1.0524},"y":{"datum":1.115}}},
{"data":{"values":[{}]},"mark":{"type":"point","shape":"triangle-right","color":"#000"},"encoding":{"x":{"datum":1.12},"y":{"datum":-1.047}}},
{"data":{"name":"rx"},"mark":{"type":"text","dx":1,"fontSize":6.5,"color":"#e34a4a"},"encoding":{"x":{"field":"x","type":"quantitative","title":null},"y":{"datum":-0.072},"text":{"field":"t"}}},
{"data":{"name":"ry"},"mark":{"type":"text","align":"right","fontSize":6.5,"color":"#e34a4a"},"encoding":{"x":{"datum":0.225},"y":{"field":"y","type":"quantitative","title":null},"text":{"field":"t"}}},
{"data":{"values":[{}]},"mark":{"type":"text","fontSize":7.5,"color":"#e34a4a"},"encoding":{"x":{"datum":1.06},"y":{"datum":0.085},"text":{"value":"X1"}}},
{"data":{"values":[{}]},"mark":{"type":"text","fontSize":7.5,"color":"#e34a4a"},"encoding":{"x":{"datum":0.05},"y":{"datum":1.165},"text":{"value":"X3"}}},
{"data":{"name":"cl"},"transform":[{"filter":"datum.p=='e'"}],"mark":{"type":"text","fontSize":7,"color":"#4848d8"},"encoding":{"x":{"field":"x","type":"quantitative","title":null},"y":{"field":"y","type":"quantitative","title":null},"text":{"field":"t"}}},
{"data":{"values":[{}]},"mark":{"type":"text","font":"Liberation Serif","fontWeight":"bold","fontSize":10,"color":"#000"},"encoding":{"x":{"datum":-1.069},"y":{"datum":1.186},"text":{"value":"L/S ratio"}}},
{"data":{"values":[{}]},"mark":{"type":"text","align":"right","font":"Liberation Serif","fontWeight":"bold","fontSize":10,"color":"#000"},"encoding":{"x":{"datum":1.112},"y":{"datum":-1.268},"text":{"value":"Water added"}}},
{"data":{"values":[{}]},"mark":{"type":"text","align":"center","font":"Liberation Serif","fontWeight":"bold","fontSize":14,"color":"#000"},"encoding":{"x":{"datum":0},"y":{"datum":-1.374},"text":{"value":"(e)"}}},
{"data":{"values":[{}]},"mark":{"type":"text","align":"right","baseline":"alphabetic","font":"Liberation Serif","fontWeight":"bold","fontSize":21.5,"color":"#000"},"encoding":{"x":{"datum":0.317},"y":{"datum":1.471},"text":{"value":"Specific elastic modulus (E"}}},
{"data":{"values":[{}]},"mark":{"type":"text","baseline":"alphabetic","font":"Liberation Serif","fontWeight":"bold","fontStyle":"italic","fontSize":13,"dx":0.5,"dy":4,"color":"#000"},"encoding":{"x":{"datum":0.317},"y":{"datum":1.471},"text":{"value":"f"}}},
{"data":{"values":[{}]},"mark":{"type":"text","baseline":"alphabetic","font":"Liberation Serif","fontWeight":"bold","fontSize":21.5,"dx":5,"color":"#000"},"encoding":{"x":{"datum":0.317},"y":{"datum":1.471},"text":{"value":"/d) of fiberboards"}}}
]},
{"width":207.5,"height":206.5,"layer":[
{"data":{"name":"grid"},"mark":{"type":"rule","color":"#8c8c8c","strokeWidth":0.9,"strokeDash":[1.5,1.5]},"encoding":{"x":{"field":"x","type":"quantitative","title":null,"scale":{"domain":[-1.0524,1.12],"nice":false,"zero":false},"axis":{"values":[-1,0,1],"domain":false,"labelExpr":"datum.value == -1 ? '0.0' : datum.value == 0 ? '12.5' : '25.0'"}},"y":{"field":"y","type":"quantitative","title":null,"scale":{"domain":[-1.047,1.115],"nice":false,"zero":false},"axis":{"values":[-1,0,1],"labelExpr":"datum.value == -1 ? '0.33' : datum.value == 0 ? '0.70' : '1.07'"}},"x2":{"field":"x2"},"y2":{"field":"y2"}}},
{"data":{"name":"contours"},"transform":[{"filter":"datum.p=='f'"}],"mark":"line","encoding":{"x":{"field":"x","type":"quantitative","title":null},"y":{"field":"y","type":"quantitative","title":null},"detail":{"field":"c"},"order":{"value":null}}},
{"data":{"name":"redrule"},"mark":{"type":"rule","color":"#e3262b","strokeWidth":1.6},"encoding":{"x":{"field":"x","type":"quantitative","title":null},"y":{"field":"y","type":"quantitative","title":null},"x2":{"field":"x2"},"y2":{"field":"y2"}}},
{"data":{"values":[{}]},"mark":{"type":"rule","color":"#000","strokeWidth":1},"encoding":{"x":{"datum":-1.0524},"x2":{"datum":1.12},"y":{"datum":-1.047}}},
{"data":{"values":[{}]},"mark":{"type":"point","shape":"triangle-up","color":"#e3262b"},"encoding":{"x":{"datum":0},"y":{"datum":1.15}}},
{"data":{"values":[{}]},"mark":{"type":"point","shape":"triangle-right","color":"#e3262b"},"encoding":{"x":{"datum":1.15},"y":{"datum":0}}},
{"data":{"values":[{}]},"mark":{"type":"point","shape":"triangle-up","color":"#000"},"encoding":{"x":{"datum":-1.0524},"y":{"datum":1.115}}},
{"data":{"values":[{}]},"mark":{"type":"point","shape":"triangle-right","color":"#000"},"encoding":{"x":{"datum":1.12},"y":{"datum":-1.047}}},
{"data":{"name":"rx"},"mark":{"type":"text","dx":1,"fontSize":6.5,"color":"#e34a4a"},"encoding":{"x":{"field":"x","type":"quantitative","title":null},"y":{"datum":-0.072},"text":{"field":"t"}}},
{"data":{"name":"ry"},"mark":{"type":"text","align":"right","fontSize":6.5,"color":"#e34a4a"},"encoding":{"x":{"datum":0.225},"y":{"field":"y","type":"quantitative","title":null},"text":{"field":"t"}}},
{"data":{"values":[{}]},"mark":{"type":"text","fontSize":7.5,"color":"#e34a4a"},"encoding":{"x":{"datum":1.06},"y":{"datum":0.085},"text":{"value":"X2"}}},
{"data":{"values":[{}]},"mark":{"type":"text","fontSize":7.5,"color":"#e34a4a"},"encoding":{"x":{"datum":0.05},"y":{"datum":1.165},"text":{"value":"X3"}}},
{"data":{"name":"cl"},"transform":[{"filter":"datum.p=='f'"}],"mark":{"type":"text","fontSize":7,"color":"#4848d8"},"encoding":{"x":{"field":"x","type":"quantitative","title":null},"y":{"field":"y","type":"quantitative","title":null},"text":{"field":"t"}}},
{"data":{"values":[{}]},"mark":{"type":"text","font":"Liberation Serif","fontWeight":"bold","fontSize":10,"color":"#000"},"encoding":{"x":{"datum":-1.069},"y":{"datum":1.186},"text":{"value":"L/S ratio"}}},
{"data":{"values":[{}]},"mark":{"type":"text","align":"right","font":"Liberation Serif","fontWeight":"bold","fontSize":10,"color":"#000"},"encoding":{"x":{"datum":1.112},"y":{"datum":-1.268},"text":{"value":"Lignin content"}}},
{"data":{"values":[{}]},"mark":{"type":"text","align":"center","font":"Liberation Serif","fontWeight":"bold","fontSize":14,"color":"#000"},"encoding":{"x":{"datum":0},"y":{"datum":-1.374},"text":{"value":"(f)"}}}
]}
],
"config":{"view":{"stroke":null},
"text":{"font":"Liberation Sans","baseline":"middle","align":"left"},
"point":{"filled":true,"opacity":1,"size":28},
"line":{"color":"#6e6ee8","strokeWidth":1.1,"interpolate":"catmull-rom"},
"axis":{"domainColor":"#000","domainWidth":1,"tickColor":"#000","tickWidth":1,"labelFont":"Liberation Sans","labelFontSize":7,"labelColor":"#444","grid":false,"labelFlush":false},
"axisX":{"tickSize":4,"labelAlign":"left","labelBaseline":"top","labelPadding":2},
"axisY":{"tickSize":5,"labelPadding":5}}
}
